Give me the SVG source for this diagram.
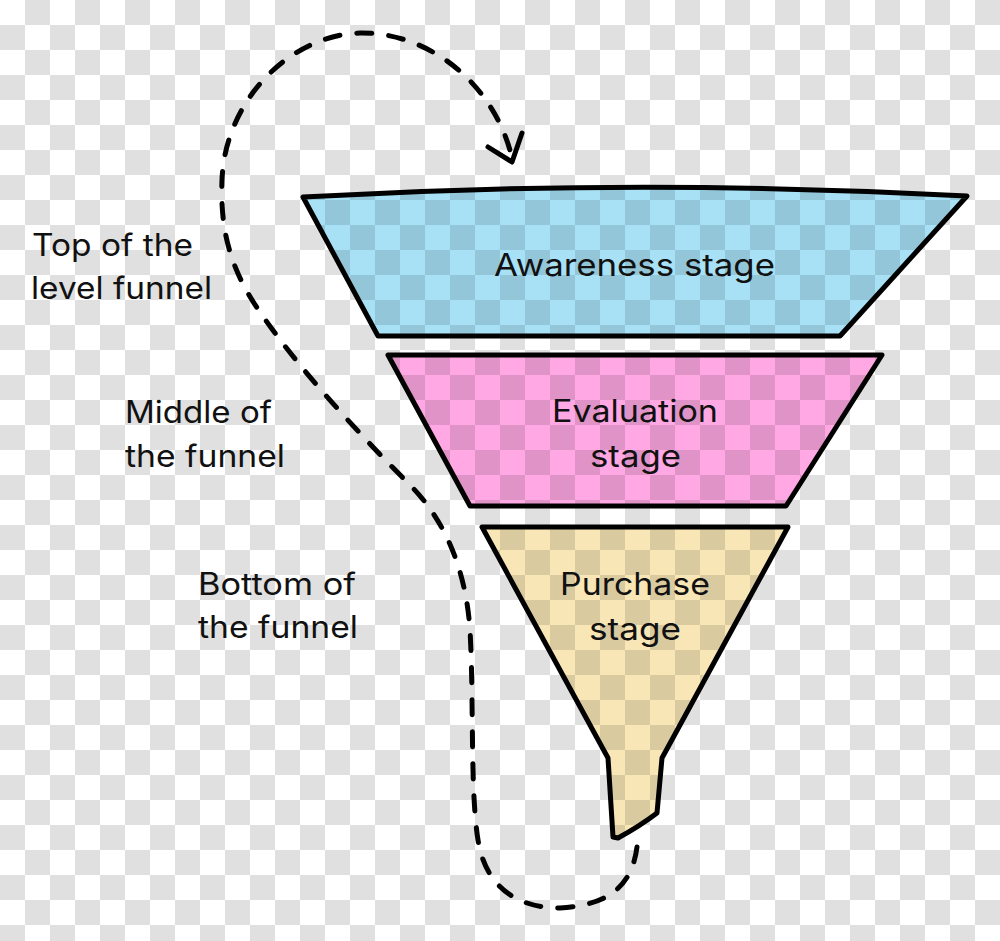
<svg xmlns="http://www.w3.org/2000/svg" width="1000" height="941" viewBox="0 0 1000 941">
  <defs>
    <pattern id="chk" width="50" height="50" patternUnits="userSpaceOnUse">
      <rect width="50" height="50" fill="#ffffff"/>
      <rect x="25" y="0" width="25" height="25" fill="#e0e0e0"/>
      <rect x="0" y="25" width="25" height="25" fill="#e0e0e0"/>
    </pattern>
    <pattern id="chkBlue" width="50" height="50" patternUnits="userSpaceOnUse">
      <rect width="50" height="50" fill="#a8e1f6"/>
      <rect x="25" y="0" width="25" height="25" fill="#93c6d8"/>
      <rect x="0" y="25" width="25" height="25" fill="#93c6d8"/>
    </pattern>
    <pattern id="chkPink" width="50" height="50" patternUnits="userSpaceOnUse">
      <rect width="50" height="50" fill="#ffa8e3"/>
      <rect x="25" y="0" width="25" height="25" fill="#e093c7"/>
      <rect x="0" y="25" width="25" height="25" fill="#e093c7"/>
    </pattern>
    <pattern id="chkTan" width="50" height="50" patternUnits="userSpaceOnUse">
      <rect width="50" height="50" fill="#f8e6b6"/>
      <rect x="25" y="0" width="25" height="25" fill="#dacaa0"/>
      <rect x="0" y="25" width="25" height="25" fill="#dacaa0"/>
    </pattern>
  </defs>
  <style>
    .stage { stroke: #000; stroke-width: 5; stroke-linejoin: round; }
    .lbl { font-family: Inter, "Noto Sans", "Liberation Sans", sans-serif; font-size: 31px; fill: #111; }
    .mid { text-anchor: middle; }
    .dash { fill: none; stroke: #000; stroke-width: 5; stroke-linecap: round; stroke-dasharray: 15 17; }
    .head { fill: none; stroke: #000; stroke-width: 5; stroke-linecap: round; stroke-linejoin: round; }
  </style>

  <rect id="background" width="1000" height="941" fill="url(#chk)"/>

  <g id="connectors">
    <path class="dash" d="M 637 847 C 632 885, 610 905, 560 908 C 515 908, 485 885, 478 840 C 470 790, 474 700, 470 630 C 466 570, 445 520, 410 485 C 360 435, 300 370, 262 315 C 230 270, 220 230, 222 180 C 225 100, 290 35, 360 33 C 430 32, 495 85, 512 158"/>
    <polyline class="head" points="488,147 512,162 522,133"/>
  </g>

  <g id="awareness">
    <path class="stage" fill="url(#chkBlue)" d="M 303 197 Q 635 178 967 196 L 840 336 L 378 336 Z"/>
    <text class="lbl mid" x="634.5" y="276" textLength="281" lengthAdjust="spacingAndGlyphs">Awareness stage</text>
  </g>

  <g id="evaluation">
    <path class="stage" fill="url(#chkPink)" d="M 388 355 L 882 355 L 786 506 L 470 506 Z"/>
    <text class="lbl mid" x="635" y="422" textLength="166" lengthAdjust="spacingAndGlyphs">Evaluation</text>
    <text class="lbl mid" x="635.5" y="467" textLength="91" lengthAdjust="spacingAndGlyphs">stage</text>
  </g>

  <g id="purchase">
    <path class="stage" fill="url(#chkTan)" d="M 482 527 L 788 527 L 662 758 L 657 813 Q 640 826 618 838 L 613 837 L 608 758 Z"/>
    <text class="lbl mid" x="635" y="595" textLength="150" lengthAdjust="spacingAndGlyphs">Purchase</text>
    <text class="lbl mid" x="635" y="640" textLength="92" lengthAdjust="spacingAndGlyphs">stage</text>
  </g>

  <g id="label-top">
    <text class="lbl" x="32" y="256" textLength="161" lengthAdjust="spacingAndGlyphs">Top of the</text>
    <text class="lbl" x="31" y="299" textLength="181" lengthAdjust="spacingAndGlyphs">level funnel</text>
  </g>

  <g id="label-middle">
    <text class="lbl" x="125" y="423" textLength="147" lengthAdjust="spacingAndGlyphs">Middle of</text>
    <text class="lbl" x="125" y="467" textLength="160" lengthAdjust="spacingAndGlyphs">the funnel</text>
  </g>

  <g id="label-bottom">
    <text class="lbl" x="198" y="595" textLength="158" lengthAdjust="spacingAndGlyphs">Bottom of</text>
    <text class="lbl" x="198" y="638" textLength="160" lengthAdjust="spacingAndGlyphs">the funnel</text>
  </g>
</svg>
